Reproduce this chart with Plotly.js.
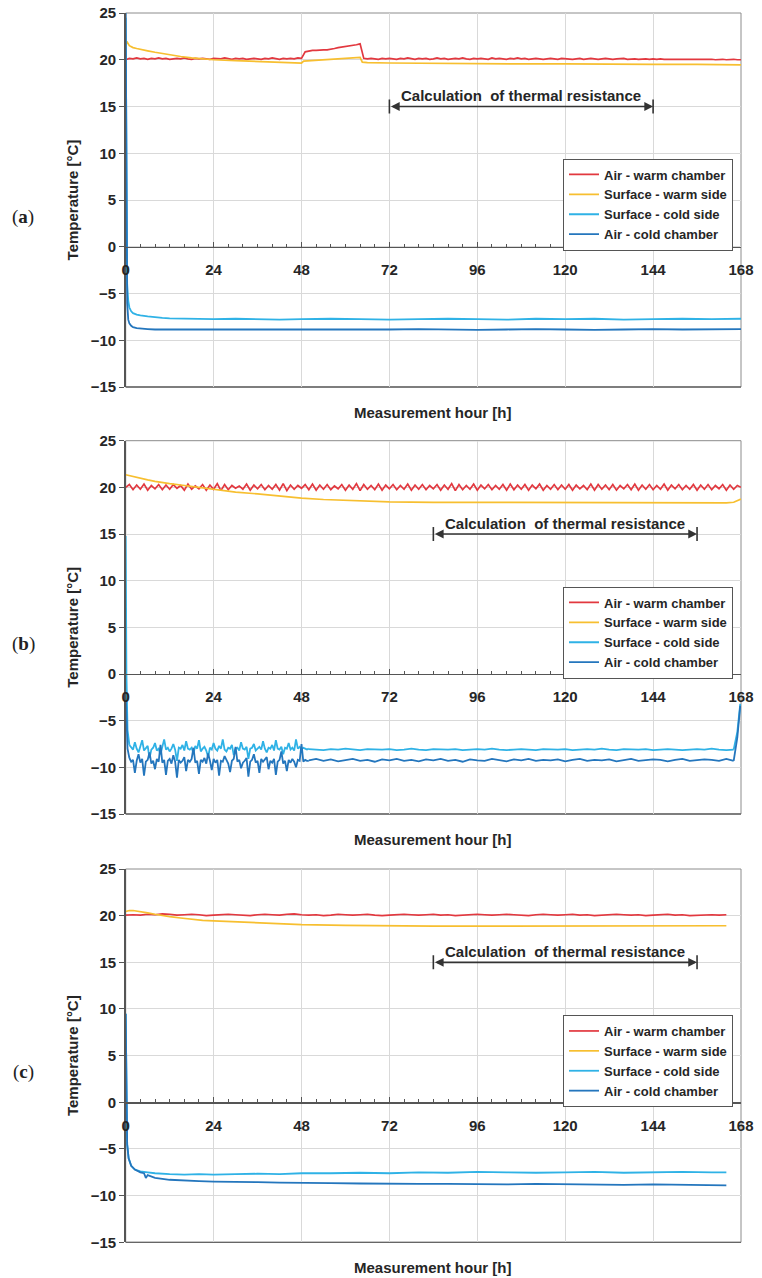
<!DOCTYPE html>
<html>
<head>
<meta charset="utf-8">
<script src="https://cdn.plot.ly/plotly-3.0.1.min.js"></script>
<style>
  html, body { margin: 0; padding: 0; background: #ffffff; }
  #chart { width: 762px; height: 1278px; }
</style>
</head>
<body>
<div id="chart"></div>
<script>
// ---- series labels, colours, ticks ----
const seriesNames = ['Air - warm chamber', 'Surface - warm side', 'Surface - cold side', 'Air - cold chamber'];
const seriesColors = ['#e2383f', '#f7bf30', '#2fb2e6', '#2476bd'];
const panelLetters = ['a', 'b', 'c'];
const hourTicks = [0, 24, 48, 72, 96, 120, 144, 168];
const hourRange = [0, 168];
const tempRange = [-15, 25];
const calcWindows = [[72, 144], [84, 156], [84, 156]];   // thermal resistance evaluation period [h]
const calcLabel = 'Calculation  of thermal resistance';

// ---- panel (a) ----
// air, warm chamber: hourly samples from 0 h
const aAirWarm = [
  20.0, 20.15, 20.1, 20.2, 20.1, 20.15, 20.05, 20.15, 20.1, 20.2,
  20.1, 20.15, 20.05, 20.1, 20.15, 20.1, 20.2, 20.1, 20.05, 20.15,
  20.1, 20.15, 20.1, 20.05, 20.15, 20.1, 20.1, 20.2, 20.1, 20.05,
  20.15, 20.1, 20.15, 20.05, 20.1, 20.15, 20.1, 20.05, 20.15, 20.1,
  20.2, 20.1, 20.05, 20.15, 20.1, 20.15, 20.1, 20.2, 20.15,
  20.85, 20.95, 21.0, 21.0, 21.05, 21.05, 21.05, 21.1, 21.2, 21.3,
  21.35, 21.45, 21.5, 21.55, 21.6, 21.7,
  20.15, 20.1, 20.15, 20.1, 20.05, 20.15, 20.1, 20.15,
  20.1, 20.05, 20.15, 20.1, 20.2, 20.1, 20.05, 20.15, 20.1, 20.15,
  20.05, 20.1, 20.2, 20.1, 20.15, 20.05, 20.1, 20.15, 20.1, 20.2,
  20.1, 20.05, 20.15, 20.1, 20.15, 20.1, 20.05, 20.2, 20.1, 20.15,
  20.1, 20.05, 20.15, 20.1, 20.2, 20.1, 20.15, 20.05, 20.1, 20.15,
  20.1, 20.05, 20.1, 20.15, 20.1, 20.05, 20.15, 20.1, 20.1, 20.05,
  20.1, 20.15, 20.05, 20.1, 20.15, 20.1, 20.05, 20.1, 20.15, 20.1,
  20.05, 20.1, 20.1, 20.15, 20.05, 20.1, 20.1, 20.05, 20.1, 20.1,
  20.05, 20.1, 20.05, 20.1, 20.05, 20.05, 20.1, 20.05, 20.05, 20.1,
  20.05, 20.05, 20.05, 20.1, 20.05, 20.05, 20.05, 20.05, 20.0, 20.05,
  20.05, 20.0, 20.05, 20.05, 20.0, 20.0
];
const aSurfWarmHours = [0, 0.3, 1, 2, 3, 4, 6, 8, 10, 12, 15, 18, 21, 24, 30, 36, 42, 48, 48.6, 52, 56, 60, 64, 64.6, 66, 72, 84, 96, 108, 120, 132, 144, 156, 168];
const aSurfWarm = [21.6, 21.95, 21.5, 21.3, 21.2, 21.1, 20.95, 20.8, 20.65, 20.5, 20.35, 20.2, 20.1, 20.0, 19.9, 19.8, 19.72, 19.65, 19.85, 19.95, 20.05, 20.15, 20.25, 19.75, 19.7, 19.65, 19.6, 19.6, 19.55, 19.55, 19.5, 19.5, 19.5, 19.45];
const aSurfColdHours = [0, 0.15, 0.4, 0.7, 1, 1.5, 2, 3, 4, 6, 8, 10, 12, 16, 20, 24, 30, 36, 42, 48, 56, 64, 72, 80, 88, 96, 104, 112, 120, 128, 136, 144, 152, 160, 168];
const aSurfCold = [24.5, 5, -4, -5.8, -6.5, -6.9, -7.1, -7.25, -7.35, -7.45, -7.55, -7.6, -7.65, -7.7, -7.7, -7.75, -7.7, -7.75, -7.8, -7.75, -7.7, -7.75, -7.8, -7.75, -7.7, -7.75, -7.8, -7.7, -7.75, -7.7, -7.8, -7.75, -7.7, -7.75, -7.7];
const aAirColdHours = [0, 0.15, 0.4, 0.7, 1, 1.5, 2, 3, 4, 6, 8, 10, 14, 18, 24, 30, 36, 42, 48, 56, 64, 72, 80, 88, 96, 104, 112, 120, 128, 136, 144, 152, 160, 168];
const aAirCold = [25, 2, -6, -7.8, -8.2, -8.45, -8.6, -8.7, -8.75, -8.8, -8.85, -8.85, -8.9, -8.85, -8.9, -8.85, -8.9, -8.85, -8.9, -8.85, -8.9, -8.85, -8.8, -8.85, -8.9, -8.85, -8.8, -8.85, -8.9, -8.85, -8.8, -8.85, -8.8, -8.8];

// ---- panel (b) ----
// air, warm chamber: hourly samples from 0 h
const bAirWarm = [
  20.0, 20.3, 19.75, 20.25, 19.8, 20.35, 19.7, 20.2, 19.85, 20.3,
  19.75, 20.25, 19.8, 20.3, 19.9, 20.2, 19.7, 20.35, 19.8, 20.15,
  19.85, 20.3, 19.7, 20.25, 19.8, 20.4, 19.65, 20.3, 19.75, 20.2,
  19.9, 20.15, 19.8, 20.35, 19.7, 20.25, 19.85, 20.3, 19.75, 20.2,
  19.8, 20.3, 19.7, 20.4, 19.65, 20.25, 19.8, 20.2, 19.9, 20.3,
  19.75, 20.35, 19.7, 20.25, 19.8, 20.3, 19.75, 20.15, 19.85, 20.3,
  19.7, 20.25, 19.8, 20.4, 19.65, 20.3, 19.8, 20.2, 19.75, 20.35,
  19.7, 20.25, 19.85, 20.3, 19.75, 20.2, 19.8, 20.35, 19.7, 20.25,
  19.8, 20.3, 19.75, 20.2, 19.85, 20.3, 19.7, 20.25, 19.8, 20.4,
  19.65, 20.3, 19.75, 20.2, 19.8, 20.35, 19.7, 20.25, 19.85, 20.3,
  19.75, 20.2, 19.8, 20.3, 19.7, 20.35, 19.75, 20.25, 19.8, 20.3,
  19.7, 20.25, 19.85, 20.35, 19.7, 20.2, 19.8, 20.3, 19.75, 20.25,
  19.8, 20.3, 19.7, 20.25, 19.85, 20.2, 19.75, 20.35, 19.7, 20.3,
  19.8, 20.25, 19.75, 20.3, 19.7, 20.2, 19.85, 20.3, 19.75, 20.35,
  19.7, 20.25, 19.8, 20.3, 19.75, 20.2, 19.8, 20.35, 19.7, 20.25,
  19.85, 20.3, 19.75, 20.2, 19.8, 20.3, 19.7, 20.25, 19.8, 20.3,
  19.75, 20.2, 19.85, 20.3, 19.7, 20.25, 19.8, 20.2, 20.0
];
const bSurfWarmHours = [0, 1, 2, 4, 6, 8, 10, 12, 15, 18, 21, 24, 30, 36, 42, 48, 54, 60, 66, 72, 84, 96, 108, 120, 132, 144, 156, 164, 166, 167, 168];
const bSurfWarm = [21.35, 21.25, 21.15, 20.95, 20.8, 20.65, 20.5, 20.4, 20.25, 20.1, 19.95, 19.8, 19.5, 19.3, 19.05, 18.85, 18.7, 18.6, 18.5, 18.45, 18.4, 18.38, 18.37, 18.36, 18.35, 18.34, 18.33, 18.33, 18.4, 18.55, 18.75];
// surface, cold side
const bSurfColdStartHours = [0, 0.2, 0.5, 1];
const bSurfColdStart = [14.8, 0, -6, -7.6];
const bSurfColdNoisy = [          // every 0.5 h from 1 h to 50 h
  -7.6, -7.9, -8.1, -7.3, -8.0, -8.4, -7.8, -7.1, -8.2, -8.0,
  -7.7, -9.0, -8.1, -7.9, -7.4, -8.2, -8.0, -8.6, -7.8, -7.0,
  -8.1, -7.9, -8.3, -8.0, -7.5, -8.1, -9.3, -7.9, -8.0, -7.6,
  -8.2, -7.2, -8.0, -8.1, -7.9, -8.5, -7.7, -8.0, -7.1, -8.3,
  -8.0, -7.8, -8.2, -8.9, -7.9, -8.1, -7.4, -8.0, -8.2, -7.7,
  -8.0, -7.0, -8.1, -8.3, -7.9, -8.0, -7.6, -8.7, -8.0, -7.9,
  -8.2, -7.3, -8.0, -8.1, -7.8, -9.1, -8.0, -7.9, -7.5, -8.2,
  -8.0, -7.8, -8.1, -7.2, -8.0, -8.4, -7.9, -8.0, -7.6, -8.2,
  -7.1, -8.0, -8.1, -7.8, -8.6, -7.9, -8.0, -7.4, -8.1, -7.9,
  -8.2, -7.0, -8.0, -7.8, -8.1, -7.9, -8.0, -8.1, -8.0
];
const bSurfColdSteady = [         // every 2 h from 50 h to 166 h
  -8.05, -8.1, -8.15, -8.05, -8.1, -8.0, -8.1, -8.15, -8.05, -8.1,
  -8.1, -8.05, -8.15, -8.1, -8.0, -8.1, -8.15, -8.05, -8.1, -8.1,
  -8.05, -8.15, -8.1, -8.05, -8.1, -8.0, -8.1, -8.15, -8.1, -8.05,
  -8.1, -8.15, -8.05, -8.1, -8.1, -8.05, -8.15, -8.1, -8.05, -8.1,
  -8.0, -8.1, -8.15, -8.05, -8.1, -8.1, -8.05, -8.15, -8.1, -8.05,
  -8.1, -8.15, -8.1, -8.05, -8.1, -8.0, -8.1, -8.15, -8.1
];
const bSurfColdEndHours = [166, 167, 167.8];
const bSurfColdEnd = [-8.1, -6.2, -3.2];
// air, cold chamber
const bAirColdStartHours = [0, 0.2, 0.5, 1];
const bAirColdStart = [-2, -5, -8, -9.0];
const bAirColdNoisy = [           // every 0.5 h from 1 h to 50 h
  -9.0, -9.4, -9.2, -10.6, -9.3, -8.6, -9.5, -9.1, -10.9, -9.4,
  -9.2, -8.4, -9.6, -9.3, -10.2, -9.1, -9.4, -7.6, -9.5, -9.2,
  -10.8, -9.3, -9.1, -9.6, -8.7, -9.4, -11.1, -9.2, -9.5, -9.3,
  -8.9, -10.4, -9.2, -9.4, -9.1, -7.9, -9.5, -9.3, -10.7, -9.2,
  -9.4, -9.0, -9.6, -8.5, -9.3, -10.3, -9.1, -9.5, -9.2, -10.9,
  -9.3, -9.4, -8.8, -9.2, -9.6, -10.5, -9.3, -9.1, -7.8, -9.4,
  -9.2, -10.1, -9.5, -9.3, -9.0, -11.0, -9.4, -9.2, -8.6, -9.5,
  -9.3, -10.6, -9.1, -9.4, -9.2, -8.9, -10.2, -9.3, -9.5, -9.1,
  -10.8, -9.4, -9.2, -8.3, -9.6, -9.3, -10.4, -9.2, -9.5, -9.1,
  -9.4, -10.0, -9.2, -9.3, -7.5, -9.4, -9.2, -9.3, -9.3
];
const bAirColdSteady = [          // every 2 h from 50 h to 166 h
  -9.25, -9.1, -9.3, -9.15, -9.35, -9.2, -9.1, -9.3, -9.2, -9.4,
  -9.15, -9.25, -9.1, -9.3, -9.2, -9.35, -9.15, -9.25, -9.1, -9.3,
  -9.2, -9.4, -9.15, -9.25, -9.3, -9.1, -9.2, -9.35, -9.15, -9.25,
  -9.1, -9.3, -9.2, -9.25, -9.15, -9.35, -9.2, -9.1, -9.3, -9.2,
  -9.25, -9.15, -9.35, -9.2, -9.1, -9.3, -9.25, -9.15, -9.2, -9.35,
  -9.2, -9.1, -9.3, -9.25, -9.15, -9.2, -9.3, -9.1, -9.3
];
const bAirColdEndHours = [166, 167, 167.8];
const bAirColdEnd = [-9.3, -6.8, -3.4];

// ---- panel (c) ----
// air, warm chamber: every 2 h from 0 h to 164 h
const cAirWarm = [
  20.05, 20.1, 20.05, 20.15, 20.1, 20.2, 20.15, 20.05, 20.1, 20.15,
  20.1, 20.0, 20.05, 20.1, 20.15, 20.1, 20.05, 20.0, 20.1, 20.15,
  20.1, 20.05, 20.15, 20.2, 20.1, 20.05, 20.1, 20.0, 20.05, 20.15,
  20.1, 20.05, 20.1, 20.15, 20.05, 20.0, 20.05, 20.1, 20.15, 20.1,
  20.05, 20.1, 20.15, 20.05, 20.1, 20.0, 20.05, 20.1, 20.15, 20.1,
  20.05, 20.1, 20.15, 20.1, 20.05, 20.0, 20.1, 20.15, 20.1, 20.05,
  20.1, 20.15, 20.05, 20.1, 20.0, 20.05, 20.1, 20.15, 20.1, 20.05,
  20.1, 20.0, 20.05, 20.1, 20.15, 20.05, 20.1, 20.0, 20.05, 20.1,
  20.1, 20.05, 20.1
];
const cSurfWarmHours = [0, 1, 2, 3, 4, 6, 8, 10, 12, 15, 18, 21, 24, 30, 36, 42, 48, 60, 72, 84, 96, 108, 120, 132, 144, 156, 164];
const cSurfWarm = [20.45, 20.55, 20.55, 20.5, 20.45, 20.3, 20.15, 20.0, 19.9, 19.75, 19.6, 19.5, 19.45, 19.35, 19.25, 19.12, 19.03, 18.95, 18.9, 18.88, 18.88, 18.88, 18.88, 18.9, 18.9, 18.92, 18.92];
const cSurfColdHours = [0, 0.15, 0.4, 0.8, 1.5, 2.5, 4, 6, 8, 12, 16, 20, 24, 30, 36, 42, 48, 56, 64, 72, 80, 88, 96, 104, 112, 120, 128, 136, 144, 152, 160, 164];
const cSurfCold = [9.5, 0, -4.5, -6.0, -6.8, -7.2, -7.4, -7.5, -7.6, -7.7, -7.75, -7.7, -7.75, -7.7, -7.65, -7.7, -7.6, -7.6, -7.55, -7.6, -7.5, -7.55, -7.45, -7.5, -7.55, -7.5, -7.45, -7.55, -7.5, -7.45, -7.5, -7.5];
const cAirColdHours = [0, 0.15, 0.4, 0.8, 1.5, 2.5, 4, 5, 5.5, 6, 8, 12, 16, 20, 24, 30, 36, 42, 48, 56, 64, 72, 80, 88, 96, 104, 112, 120, 128, 136, 144, 152, 160, 164];
const cAirCold = [9.5, 0, -4.5, -6.0, -6.8, -7.2, -7.5, -7.6, -8.1, -7.8, -8.1, -8.3, -8.4, -8.45, -8.5, -8.5, -8.55, -8.6, -8.65, -8.65, -8.7, -8.75, -8.75, -8.75, -8.8, -8.8, -8.75, -8.8, -8.8, -8.85, -8.8, -8.85, -8.85, -8.9];

// ---- page geometry ----
const W = 762, H = 1278;
const xDomain = [125.7 / W, 741 / W];
const panelTops = [13, 440.7, 869];        // px from the top of the page
const panelBottoms = [387, 814, 1242.3];
const legendTops = [158.5, 586.5, 1015];
const FONT = 'Arial, "Liberation Sans", sans-serif';
const textColor = '#262626';
const axisColor = '#555555';
const gridColor = '#d9d9d9';

// ---- traces ----
const traces = [];
function addLine(panel, seriesIdx, data, showLegend) {
  const sfx = panel === 0 ? '' : String(panel + 1);
  traces.push(Object.assign({
    type: 'scatter',
    mode: 'lines',
    name: seriesNames[seriesIdx],
    legendgroup: 'p' + panel + 's' + seriesIdx,
    showlegend: showLegend,
    legend: 'legend' + sfx,
    xaxis: 'x' + sfx,
    yaxis: 'y' + sfx,
    line: { color: seriesColors[seriesIdx], width: seriesIdx >= 2 ? 1.8 : 1.7 },
    hoverinfo: 'skip'
  }, data));
}

// (a)
addLine(0, 0, { x0: 0, dx: 1, y: aAirWarm }, true);
addLine(0, 1, { x: aSurfWarmHours, y: aSurfWarm }, true);
addLine(0, 2, { x: aSurfColdHours, y: aSurfCold }, true);
addLine(0, 3, { x: aAirColdHours, y: aAirCold }, true);
// (b)
addLine(1, 0, { x0: 0, dx: 1, y: bAirWarm }, true);
addLine(1, 1, { x: bSurfWarmHours, y: bSurfWarm }, true);
addLine(1, 2, { x: bSurfColdStartHours, y: bSurfColdStart }, true);
addLine(1, 2, { x0: 1, dx: 0.5, y: bSurfColdNoisy }, false);
addLine(1, 2, { x0: 50, dx: 2, y: bSurfColdSteady }, false);
addLine(1, 2, { x: bSurfColdEndHours, y: bSurfColdEnd }, false);
addLine(1, 3, { x: bAirColdStartHours, y: bAirColdStart }, true);
addLine(1, 3, { x0: 1, dx: 0.5, y: bAirColdNoisy }, false);
addLine(1, 3, { x0: 50, dx: 2, y: bAirColdSteady }, false);
addLine(1, 3, { x: bAirColdEndHours, y: bAirColdEnd }, false);
// (c)
addLine(2, 0, { x0: 0, dx: 2, y: cAirWarm }, true);
addLine(2, 1, { x: cSurfWarmHours, y: cSurfWarm }, true);
addLine(2, 2, { x: cSurfColdHours, y: cSurfCold }, true);
addLine(2, 3, { x: cAirColdHours, y: cAirCold }, true);

// ---- layout ----
const layout = {
  width: W, height: H,
  margin: { l: 0, r: 0, t: 0, b: 0 },
  paper_bgcolor: '#ffffff',
  plot_bgcolor: '#ffffff',
  showlegend: true,
  font: { family: FONT, color: textColor },
  shapes: [],
  annotations: []
};

const tickFont = { family: FONT, size: 15, weight: 'bold', color: textColor };

for (let p = 0; p < 3; p++) {
  const sfx = p === 0 ? '' : String(p + 1);
  const yDom = [(H - panelBottoms[p]) / H, (H - panelTops[p]) / H];
  // the hour axis runs along the 0 °C line
  const zeroFrac = (0 - tempRange[0]) / (tempRange[1] - tempRange[0]);
  const zeroPos = yDom[0] + zeroFrac * (yDom[1] - yDom[0]);

  layout['xaxis' + sfx] = {
    domain: xDomain,
    range: hourRange,
    anchor: 'free',
    position: zeroPos,
    tickvals: hourTicks,
    ticktext: hourTicks.map(String),
    ticks: 'inside',
    ticklen: 5,
    tickwidth: 1,
    tickcolor: axisColor,
    ticklabelstandoff: 9,
    minor: { dtick: 4, ticks: 'inside', ticklen: 3, tickcolor: axisColor, showgrid: false },
    showline: true,
    linecolor: axisColor,
    linewidth: 1.2,
    showgrid: true,
    gridcolor: gridColor,
    gridwidth: 1,
    zeroline: false,
    tickfont: tickFont,
    fixedrange: true
  };
  layout['yaxis' + sfx] = {
    domain: yDom,
    range: tempRange,
    anchor: 'x' + sfx,
    side: 'left',
    dtick: 5,
    tick0: 0,
    ticks: 'outside',
    ticklen: 5,
    tickcolor: axisColor,
    showline: true,
    linecolor: axisColor,
    linewidth: 1.5,
    showgrid: true,
    gridcolor: gridColor,
    zeroline: false,
    tickfont: tickFont,
    title: { text: 'Temperature [°C]', font: { family: FONT, size: 15, weight: 'bold', color: textColor }, standoff: 8 },
    fixedrange: true
  };

  layout['legend' + sfx] = {
    x: 733 / W, xanchor: 'right',
    y: (H - legendTops[p]) / H, yanchor: 'top',
    bgcolor: '#ffffff',
    bordercolor: '#555555',
    borderwidth: 1,
    font: { family: FONT, size: 13, weight: 'bold', color: textColor },
    tracegroupgap: 0,
    itemwidth: 30
  };

  // plot frame
  layout.shapes.push({
    type: 'rect', xref: 'x' + sfx + ' domain', yref: 'y' + sfx + ' domain',
    x0: 0, x1: 1, y0: 0, y1: 1,
    line: { color: '#8c8c8c', width: 1 }, layer: 'below'
  });
  // darker bottom edge of the frame
  layout.shapes.push({
    type: 'line', xref: 'x' + sfx + ' domain', yref: 'y' + sfx + ' domain',
    x0: 0, x1: 1, y0: 0, y1: 0,
    line: { color: '#666666', width: 1.3 }, layer: 'below'
  });

  // evaluation window: double arrow with end bars and caption
  const [t0, t1] = calcWindows[p];
  layout.annotations.push({
    xref: 'x' + sfx, yref: 'y' + sfx, axref: 'x' + sfx, ayref: 'y' + sfx,
    x: t1, y: 15, ax: t0, ay: 15,
    text: '', showarrow: true, arrowside: 'end+start',
    arrowhead: 2, arrowsize: 1.1, arrowwidth: 1.6, arrowcolor: '#333333',
    standoff: 0, startstandoff: 0
  });
  [t0, t1].forEach(t => layout.shapes.push({
    type: 'line', xref: 'x' + sfx, yref: 'y' + sfx,
    x0: t, x1: t, y0: 14.25, y1: 15.75,
    line: { color: '#333333', width: 1.6 }
  }));
  layout.annotations.push({
    xref: 'x' + sfx, yref: 'y' + sfx,
    x: (t0 + t1) / 2, y: 15, yshift: 11, yanchor: 'middle',
    text: calcLabel, showarrow: false,
    font: { family: FONT, size: 15, weight: 'bold', color: textColor }
  });

  // hour axis title under the frame
  layout.annotations.push({
    xref: 'x' + sfx + ' domain', yref: 'y' + sfx + ' domain',
    x: 0.5, y: 0, yshift: -25, yanchor: 'middle',
    text: 'Measurement hour [h]', showarrow: false,
    font: { family: FONT, size: 15, weight: 'bold', color: textColor }
  });

  // panel letter
  layout.annotations.push({
    xref: 'paper', yref: 'y' + sfx,
    x: 23 / W, y: 3.2, xanchor: 'center', yanchor: 'middle',
    text: '(<b>' + panelLetters[p] + '</b>)', showarrow: false,
    font: { family: '"Liberation Serif", "DejaVu Serif", serif', size: 19, color: '#222222' }
  });
}

Plotly.newPlot('chart', traces, layout, { staticPlot: true, displayModeBar: false });
</script>
</body>
</html>
